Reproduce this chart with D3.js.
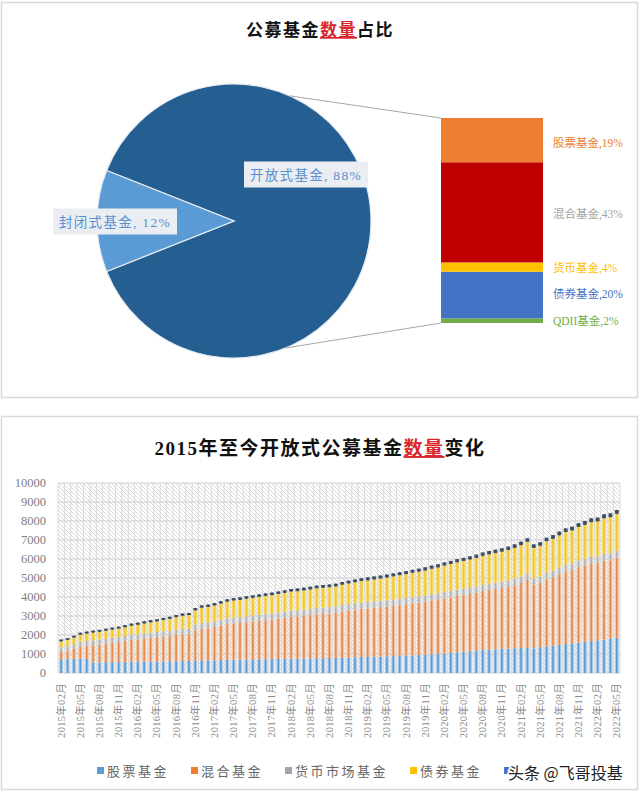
<!DOCTYPE html>
<html><head><meta charset="utf-8">
<script src="https://cdn.jsdelivr.net/npm/d3@7"></script>
<style>body{margin:0;background:#fff}svg{display:block}</style>
</head><body>
<svg id="c" width="640" height="793"></svg>
<script>
// ---------- DATA ----------
const pieLabels = ["开放式基金", "封闭式基金"];
const pieValues = [88, 12];
const subLabels = ["股票基金", "混合基金", "货币基金", "债券基金", "QDII基金"];
const subValues = [19, 43, 4, 20, 2];

const seriesNames = ["股票基金", "混合基金", "货币市场基金", "债券基金", "QDII基金"];
const stock = [720,730,750,760,740,560,560,570,570,580,580,590,590,600,600,610,610,620,620,630,640,640,650,660,670,680,690,700,700,710,720,720,730,740,740,750,760,760,770,770,780,780,790,800,810,820,830,840,850,860,870,880,890,900,910,930,950,970,990,1010,1030,1060,1090,1120,1150,1180,1210,1230,1250,1270,1290,1300,1320,1340,1300,1360,1400,1440,1480,1520,1560,1600,1640,1680,1720,1760,1810,1860];
const mixed = [390,440,520,640,700,910,940,980,1030,1050,1100,1150,1180,1220,1260,1280,1310,1330,1390,1410,1400,1610,1690,1700,1750,1820,1880,1910,1930,1960,1990,2030,2050,2070,2120,2160,2210,2210,2230,2270,2310,2330,2340,2360,2430,2480,2510,2540,2550,2570,2590,2610,2640,2670,2700,2730,2750,2770,2820,2840,2890,2920,2960,2980,3010,3040,3100,3140,3170,3200,3240,3320,3420,3560,3350,3380,3530,3600,3720,3830,3850,3970,4020,4100,4060,4150,4120,4220];
const money = [240,240,250,250,250,260,260,260,260,270,270,270,270,270,270,270,280,280,280,290,290,290,300,300,300,300,310,310,310,320,320,320,330,330,330,330,330,340,340,340,340,340,340,340,340,340,340,340,340,340,340,340,340,340,340,340,340,340,340,340,340,340,340,340,340,340,340,340,340,340,350,350,350,350,340,340,350,350,350,350,360,360,360,360,360,370,370,370];
const bond = [320,330,350,370,390,400,410,420,430,440,460,480,500,520,540,560,590,620,650,690,720,760,800,820,840,860,880,900,910,920,930,940,950,960,970,980,990,1000,1010,1020,1030,1040,1050,1060,1070,1080,1100,1120,1140,1160,1180,1200,1220,1240,1260,1280,1300,1320,1340,1370,1400,1420,1440,1460,1480,1500,1520,1540,1560,1580,1600,1620,1640,1660,1600,1620,1660,1680,1700,1720,1740,1760,1780,1800,1840,1870,1900,1930];
const qdii = [90,90,90,100,100,100,100,100,100,100,110,110,110,110,110,110,110,110,110,110,110,120,120,120,120,120,120,120,130,130,130,130,130,130,130,130,130,140,140,140,140,140,140,140,140,140,140,140,150,150,150,150,150,150,150,150,150,160,160,160,160,160,160,160,160,170,170,170,170,170,170,180,180,180,180,180,180,190,190,190,190,190,200,200,200,200,200,200];
const yTicks = [0,1000,2000,3000,4000,5000,6000,7000,8000,9000,10000];
const xTickLabels = ["2015年02月","2015年05月","2015年08月","2015年11月","2016年02月","2016年05月","2016年08月","2016年11月","2017年02月","2017年05月","2017年08月","2017年11月","2018年02月","2018年05月","2018年08月","2018年11月","2019年02月","2019年05月","2019年08月","2019年11月","2020年02月","2020年05月","2020年08月","2020年11月","2021年02月","2021年05月","2021年08月","2021年11月","2022年02月","2022年05月"];
// categories: months 2015-02 .. 2022-05
const categories = [];
for (let y = 2015, m = 2; categories.length < stock.length; ) {
  categories.push(y + "年" + String(m).padStart(2, "0") + "月");
  m++; if (m > 12) { m = 1; y++; }
}

// ---------- DRAW ----------
const svg = d3.select("#c");
const CJK = "'Noto Sans CJK SC', sans-serif";
const SER = "'Liberation Serif', 'Noto Sans CJK SC', serif";

// panels
svg.append("rect").attr("x", 1.5).attr("y", 2.5).attr("width", 636).attr("height", 395)
  .attr("fill", "#fff").attr("stroke", "#d9d9d9").attr("stroke-width", 1.5);
svg.append("rect").attr("x", 1.5).attr("y", 416.5).attr("width", 636).attr("height", 373)
  .attr("fill", "#fff").attr("stroke", "#d9d9d9").attr("stroke-width", 1.5);

// titles
function title(y, parts, size) {
  const t = svg.append("text").attr("x", 320).attr("y", y).attr("text-anchor", "middle")
    .attr("font-family", SER).attr("font-weight", "bold").attr("font-size", size)
    .attr("letter-spacing", 1.5);
  parts.forEach(p => {
    const s = t.append("tspan").text(p[0]).attr("fill", p[1] ? "#d9262c" : "#111");
    if (p[1]) s.attr("text-decoration", "underline");
  });
}
title(36, [["公募基金", 0], ["数量", 1], ["占比", 0]], 17);
title(455, [["2015年至今开放式公募基金", 0], ["数量", 1], ["变化", 0]], 19);

// ---- pie of bar ----
const cx = 234, cy = 221, R = 137;
const closedSpan = pieValues[1] / 100 * 2 * Math.PI;
const a0 = 1.5 * Math.PI + closedSpan / 2;
const pie = d3.pie().sort(null).startAngle(a0).endAngle(a0 + 2 * Math.PI);
const arc = d3.arc().innerRadius(0).outerRadius(R);
const pieColors = ["#255e91", "#5b9bd5"];
const gp = svg.append("g").attr("transform", `translate(${cx},${cy})`);
gp.selectAll("path").data(pie(pieValues)).join("path")
  .attr("d", arc).attr("fill", (d, i) => pieColors[i])
  .attr("stroke", "#e4ebf2").attr("stroke-width", 1.2);

// sub bar
const bx0 = 441, bx1 = 543;
const ySub = d3.scaleLinear().domain([0, d3.sum(subValues)]).range([323, 118]);
const subColors = ["#ed7d31", "#c00000", "#ffc000", "#4472c4", "#70ad47"];
const labColors = ["#ed7d31", "#a5a5a5", "#ffc000", "#4472c4", "#70ad47"];
let acc = 0;
const subSegs = subValues.map((v, i) => ({v, i})).reverse().map(d => { const s = {...d, lo: acc, hi: acc + d.v}; acc += d.v; return s; });
svg.append("g").selectAll("rect").data(subSegs).join("rect")
  .attr("x", bx0).attr("width", bx1 - bx0)
  .attr("y", d => ySub(d.hi)).attr("height", d => ySub(d.lo) - ySub(d.hi))
  .attr("fill", d => subColors[d.i]);

// connectors
function onCircle(deg) { const a = deg * Math.PI / 180; return [cx + R * Math.sin(a), cy - R * Math.cos(a)]; }
const pT = onCircle(24), pB = onCircle(158);
svg.append("line").attr("x1", pT[0]).attr("y1", pT[1]).attr("x2", bx0).attr("y2", ySub(d3.sum(subValues)))
  .attr("stroke", "#a6a6a6").attr("stroke-width", 1);
svg.append("line").attr("x1", pB[0]).attr("y1", pB[1]).attr("x2", bx0).attr("y2", ySub(0))
  .attr("stroke", "#a6a6a6").attr("stroke-width", 1);

// pie labels with boxes
function boxLabel(x, y, txt) {
  const g = svg.append("g");
  const t = g.append("text").attr("x", x).attr("y", y).attr("dominant-baseline", "central")
    .attr("font-family", SER).attr("font-size", 13.5).attr("fill", "#5b8fd0").attr("letter-spacing", 1.3).text(txt);
  const bb = t.node().getBBox();
  g.insert("rect", "text").attr("x", bb.x - 6).attr("y", bb.y - 5).attr("width", bb.width + 12).attr("height", bb.height + 10)
    .attr("fill", "#eaeef2");
}
boxLabel(250, 175, pieLabels[0] + ", " + pieValues[0] + "%");
boxLabel(59, 222, pieLabels[1] + ", " + pieValues[1] + "%");

// sub labels
const subLabY = [143, 214, 268, 294, 321];
subLabels.forEach((l, i) => {
  svg.append("text").attr("x", 553).attr("y", subLabY[i]).attr("dominant-baseline", "central")
    .attr("font-family", SER).attr("font-size", 11.5).attr("fill", labColors[i])
    .text(l + "," + subValues[i] + "%");
});

// ---- stacked bar chart ----
const L = 58, Rr = 620, T = 483, B = 673;
const x = d3.scaleBand().domain(categories).range([L, Rr]).paddingInner(0.38).paddingOuter(0.19);
const y = d3.scaleLinear().domain([0, 10000]).range([B, T]);
const defs = svg.append("defs");
const pat = defs.append("pattern").attr("id", "hatch").attr("width", 4).attr("height", 4).attr("patternUnits", "userSpaceOnUse");
pat.append("path").attr("d", "M0,0L4,4M-1,3L1,5M3,-1L5,1").attr("stroke", "#d4d4d4").attr("stroke-width", 0.9);
svg.append("rect").attr("x", L).attr("y", T).attr("width", Rr - L).attr("height", B - T).attr("fill", "url(#hatch)");
// vertical grid (category boundaries)
const step = x.step();
const vg = svg.append("g");
d3.range(categories.length + 1).forEach(k => {
  vg.append("line").attr("x1", L + k * step).attr("x2", L + k * step).attr("y1", T).attr("y2", B)
    .attr("stroke", "#dadada").attr("stroke-width", 1);
});
// horizontal grid
svg.append("g").selectAll("line").data(yTicks).join("line")
  .attr("x1", L).attr("x2", Rr).attr("y1", d => y(d)).attr("y2", d => y(d))
  .attr("stroke", "#d0d0d0").attr("stroke-width", 1.2);

const rows = categories.map((c, i) => ({cat: c, s0: stock[i], s1: mixed[i], s2: money[i], s3: bond[i], s4: qdii[i]}));
const keys = ["s0", "s1", "s2", "s3", "s4"];
const stacked = d3.stack().keys(keys)(rows);
const light = ["#a9cdef", "#f6c4a2", "#d6d6d6", "#f8dc6a", "#44546a"];
const dark = ["#5f98d1", "#e38a50", "#b2b2b2", "#f0c63a", "#3d4c63"];
const bw = x.bandwidth();
const gb = svg.append("g");
stacked.forEach((ser, k) => {
  const g = gb.append("g");
  g.selectAll("rect.l").data(ser).join("rect").attr("class", "l")
    .attr("x", d => x(d.data.cat)).attr("width", bw)
    .attr("y", d => y(d[1])).attr("height", d => y(d[0]) - y(d[1]))
    .attr("fill", light[k]);
  g.selectAll("rect.d").data(ser).join("rect").attr("class", "d")
    .attr("x", d => x(d.data.cat) + bw * 0.3).attr("width", bw * 0.4)
    .attr("y", d => y(d[1])).attr("height", d => y(d[0]) - y(d[1]))
    .attr("fill", dark[k]);
});

// y axis labels
svg.append("g").selectAll("text").data(yTicks).join("text")
  .attr("x", 46).attr("y", d => y(d)).attr("text-anchor", "end").attr("dominant-baseline", "central")
  .attr("font-family", SER).attr("font-size", 12.5).attr("fill", "#808080").text(d => d);

// x axis labels (every third month)
svg.append("g").selectAll("text").data(xTickLabels).join("text")
  .attr("transform", d => `translate(${x(d) + bw / 2 + 3.5},${B + 10}) rotate(-90)`)
  .attr("text-anchor", "end")
  .attr("font-family", SER).attr("font-size", 10.5).attr("letter-spacing", 0.3).attr("fill", "#8a8a8a").text(d => d);

// legend (the last item's name is hidden under the watermark in the reference)
const legColors = ["#5b9bd5", "#ed7d31", "#a5a5a5", "#ffc000", "#4472c4"];
let lx = 97;
const lg = svg.append("g");
seriesNames.forEach((n, i) => {
  lg.append("rect").attr("x", lx).attr("y", 767).attr("width", 7).attr("height", 7).attr("fill", legColors[i]);
  if (i === seriesNames.length - 1) return;
  const t = lg.append("text").attr("x", lx + 10).attr("y", 771).attr("dominant-baseline", "central")
    .attr("font-family", SER).attr("font-size", 13).attr("letter-spacing", 2.5).attr("fill", "#666").text(n);
  lx += 10 + t.node().getComputedTextLength() + 22;
});
// watermark
svg.append("text").attr("x", 508).attr("y", 772).attr("dominant-baseline", "central")
  .attr("font-family", CJK).attr("font-size", 16).attr("fill", "#222")
  .attr("stroke", "#fff").attr("stroke-width", 3).attr("paint-order", "stroke")
  .text("头条 @飞哥投基");
</script>
</body></html>
